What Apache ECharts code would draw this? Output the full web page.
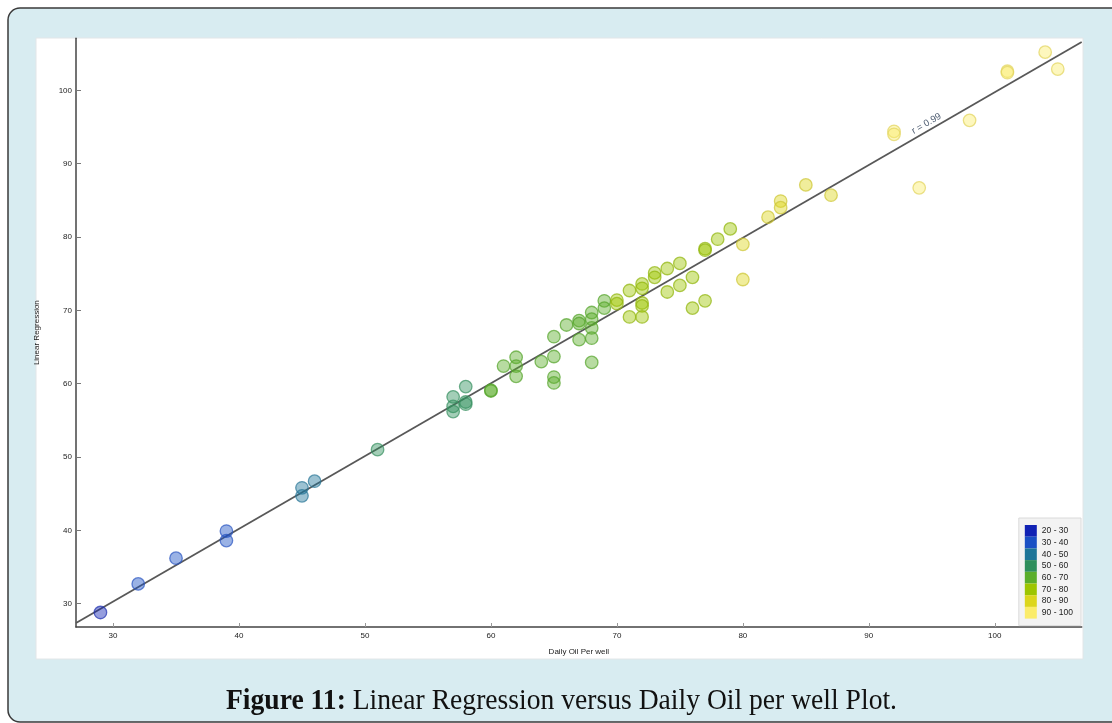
<!DOCTYPE html>
<html>
<head>
<meta charset="utf-8">
<script src="https://cdn.jsdelivr.net/npm/echarts@6/dist/echarts.min.js"></script>
<style>
  html, body { margin: 0; padding: 0; background: #ffffff; }
  #chart { width: 1112px; height: 723px; }
</style>
</head>
<body>
<div id="chart"></div>
<script>
// Daily oil per well (x) and the linear-regression estimate (y) for each well
const oilPerWell = [
  29, 32, 35, 39, 39, 45, 45, 46, 51, 57, 57, 57, 58, 58, 58, 60, 60, 61, 62, 62,
  62, 64, 65, 65, 65, 65, 66, 67, 67, 67, 68, 68, 68, 68, 68, 69, 69, 70, 70, 71,
  71, 72, 72, 72, 72, 72, 73, 73, 74, 74, 75, 75, 76, 76, 77, 77, 77, 78, 79, 80,
  80, 82, 83, 83, 85, 87, 92, 92, 94, 98, 101, 101, 104, 105
];
const linearRegression = [
  28.8, 32.7, 36.2, 39.9, 38.6, 45.8, 44.7, 46.7, 51.0, 58.2, 56.9, 56.2, 59.6, 57.5, 57.2, 59.0, 59.1, 62.4, 63.6, 62.4,
  61.0, 63.0, 66.4, 63.7, 60.9, 60.1, 68.0, 68.6, 68.2, 66.0, 69.7, 68.8, 67.6, 66.2, 62.9, 71.3, 70.3, 71.4, 70.9, 72.7,
  69.1, 73.6, 73.0, 71.0, 70.6, 69.1, 75.1, 74.5, 75.7, 72.5, 76.4, 73.4, 74.5, 70.3, 78.4, 78.2, 71.3, 79.7, 81.1, 79.0,
  74.2, 82.7, 84.9, 84.0, 87.1, 85.7, 94.4, 94.0, 86.7, 95.9, 102.6, 102.4, 105.2, 102.9
];

// Colour classes of daily oil per well
const classLabels = ['20 - 30', '30 - 40', '40 - 50', '50 - 60', '60 - 70', '70 - 80', '80 - 90', '90 - 100'];
const classLows   = [20, 30, 40, 50, 60, 70, 80, 90];
const classColors = ['#1122b4', '#1a50c4', '#1d7598', '#2e8f5c', '#5aae2a', '#9dc500', '#dcd61c', '#fbec6a'];
const classEdges  = ['#2233b0', '#2d58c2', '#2c7898', '#3a9262', '#56a52c', '#92b60e', '#cdc636', '#e2d45e'];

// Fitted line and its annotation
const fitSlope = 0.992;
const fitIntercept = 0.53;
const fitLabel = 'r = 0.99';
const fitLabelAt = 94.85;

// Axes
const xRange = [27.06, 106.9];
const yRange = [26.82, 107.09];
const xTicks = [30, 40, 50, 60, 70, 80, 90, 100];
const yTicks = [30, 40, 50, 60, 70, 80, 90, 100];
const xName = 'Daily Oil Per well';
const yName = 'Linear Regression';
const captionBold = 'Figure 11:';
const captionRest = ' Linear Regression versus Daily Oil per well Plot.';

function rgba(hex, a) {
  const n = parseInt(hex.slice(1), 16);
  return 'rgba(' + (n >> 16) + ',' + ((n >> 8) & 255) + ',' + (n & 255) + ',' + a + ')';
}
function classOf(v) {
  let k = 0;
  for (let i = 0; i < classLows.length; i++) if (v >= classLows[i]) k = i;
  return k;
}
const fit = x => fitSlope * x + fitIntercept;

const chart = echarts.init(document.getElementById('chart'), null, { renderer: 'canvas' });

const scatterSeries = classLabels.map((name, i) => ({
  name: name,
  type: 'scatter',
  z: 3,
  symbolSize: 12.5,
  data: oilPerWell
    .map((x, j) => [x, linearRegression[j]])
    .filter(p => classOf(p[0]) === i),
  itemStyle: {
    color: rgba(classColors[i], 0.55),
    borderColor: rgba(classEdges[i], 0.9),
    borderWidth: 1.3
  },
  emphasis: { disabled: true }
}));

const labelFont = 'Liberation Sans';

// Page frame and white chart panel
const frameGraphics = [
  {
    type: 'rect', z: -10, silent: true,
    shape: { x: 8, y: 8, width: 1124, height: 714, r: 12 },
    style: { fill: '#d8ecf1', stroke: '#3a3a3a', lineWidth: 1.5 }
  },
  {
    type: 'rect', z: -9, silent: true,
    shape: { x: 36, y: 38, width: 1047, height: 621 },
    style: { fill: '#ffffff', stroke: '#e2e6e8', lineWidth: 1 }
  }
];

chart.setOption({
  animation: false,
  backgroundColor: '#ffffff',
  graphic: frameGraphics,
  grid: { left: 76, top: 38.3, right: 30.3, bottom: 96, containLabel: false },
  xAxis: {
    type: 'value',
    min: xRange[0], max: xRange[1],
    name: xName, nameLocation: 'middle', nameGap: 21,
    nameTextStyle: { fontFamily: labelFont, fontSize: 8, color: '#222' },
    axisLine: { lineStyle: { color: '#444', width: 1.5 } },
    axisTick: { inside: true, length: 4, customValues: xTicks, lineStyle: { color: '#999' } },
    axisLabel: { customValues: xTicks, margin: 5, fontFamily: labelFont, fontSize: 8, color: '#222' },
    splitLine: { show: false }
  },
  yAxis: {
    type: 'value',
    min: yRange[0], max: yRange[1],
    name: yName, nameLocation: 'middle', nameGap: 35, nameRotate: 90,
    nameTextStyle: { fontFamily: labelFont, fontSize: 8, color: '#222' },
    axisLine: { show: true, lineStyle: { color: '#444', width: 1.5 } },
    axisTick: { show: true, inside: true, length: 5, customValues: yTicks, lineStyle: { color: '#777' } },
    axisLabel: { customValues: yTicks, margin: 4, fontFamily: labelFont, fontSize: 8, color: '#222' },
    splitLine: { show: false }
  },
  legend: {
    orient: 'vertical',
    right: 31, top: 518,
    selectedMode: false,
    icon: 'rect',
    itemWidth: 12, itemHeight: 11.7, itemGap: 0,
    padding: [7, 8, 7, 6],
    backgroundColor: '#f3f3f3',
    borderColor: '#dadada', borderWidth: 1,
    textStyle: { fontFamily: labelFont, fontSize: 8.5, color: '#222' },
    data: classLabels.map((n, i) => ({
      name: n,
      itemStyle: { color: classColors[i], opacity: 1, borderWidth: 0 }
    }))
  },
  series: [
    {
      name: 'fit',
      type: 'line',
      z: 2,
      silent: true,
      showSymbol: false,
      symbol: 'none',
      data: [[xRange[0], fit(xRange[0])], [xRange[1], fit(xRange[1])]],
      lineStyle: { color: '#585858', width: 1.8 }
    }
  ].concat(scatterSeries)
});

// Caption below the panel (condensed serif) and the r label along the fitted line
(function () {
  const fs = 30;
  const ctx = document.createElement('canvas').getContext('2d');
  ctx.font = 'bold ' + fs + 'px "Liberation Serif"';
  let w = ctx.measureText(captionBold).width;
  ctx.font = fs + 'px "Liberation Serif"';
  w += ctx.measureText(captionRest).width;
  const targetWidth = 671;

  const p0 = chart.convertToPixel({ seriesIndex: 0 }, [fitLabelAt, fit(fitLabelAt)]);
  const p1 = chart.convertToPixel({ seriesIndex: 0 }, [fitLabelAt + 1, fit(fitLabelAt + 1)]);
  const angle = Math.atan2(-(p1[1] - p0[1]), p1[0] - p0[0]);

  chart.setOption({
    graphic: frameGraphics.concat([
      {
        type: 'text', silent: true, z: 10,
        x: 561.5, y: 701, scaleX: targetWidth / w,
        style: {
          text: '{b|' + captionBold + '}' + captionRest,
          fontFamily: 'Liberation Serif', fontSize: fs, fill: '#111',
          align: 'center', verticalAlign: 'middle',
          rich: { b: { fontFamily: 'Liberation Serif', fontSize: fs, fontWeight: 'bold', fill: '#111' } }
        }
      },
      {
        type: 'text', silent: true, z: 10,
        x: p0[0], y: p0[1], rotation: angle,
        style: {
          text: fitLabel, x: 0, y: -2,
          fontFamily: labelFont, fontSize: 9.5, fill: '#4f5d72',
          align: 'center', verticalAlign: 'bottom'
        }
      }
    ])
  });
})();
</script>
</body>
</html>
